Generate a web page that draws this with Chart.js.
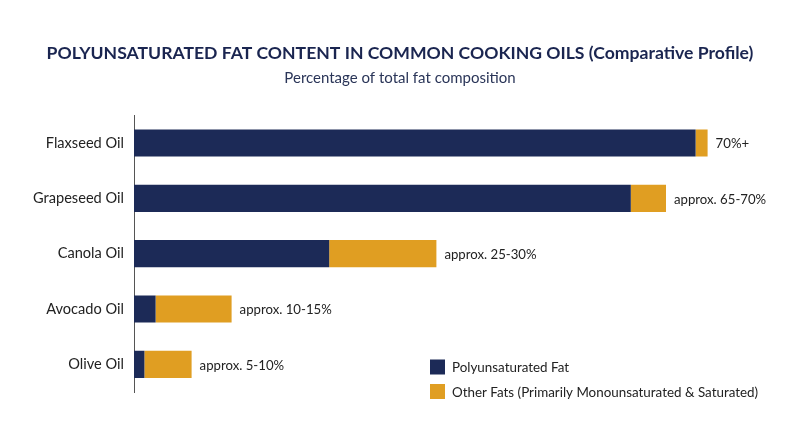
<!DOCTYPE html>
<html>
<head>
<meta charset="utf-8">
<script src="https://cdn.jsdelivr.net/npm/chart.js@4.4.1/dist/chart.umd.min.js"></script>
<style>
  html, body { margin: 0; padding: 0; background: #ffffff; }
  #wrap { position: relative; width: 800px; height: 447px; }
</style>
</head>
<body>
<div id="wrap"><canvas id="chart"></canvas></div>
<script>
// Dados do gráfico
const oils = ['Flaxseed Oil', 'Grapeseed Oil', 'Canola Oil', 'Avocado Oil', 'Olive Oil'];
const polyFat = [70.2, 62.1, 24.4, 2.7, 1.3];
const otherFats = [1.5, 4.4, 13.4, 9.5, 5.9];
const endLabels = ['70%+', 'approx. 65-70%', 'approx. 25-30%', 'approx. 10-15%', 'approx. 5-10%'];

const NAVY = '#1c2a57';
const ORANGE = '#e09e22';
const FONT = "Lato, 'Noto Sans', sans-serif";

// Rótulos no fim de cada barra empilhada
const endLabelPlugin = {
    id: 'endLabels',
    afterDatasetsDraw(chart) {
        const ctx = chart.ctx;
        const meta = chart.getDatasetMeta(chart.data.datasets.length - 1);
        ctx.save();
        ctx.font = '13.2px ' + FONT;
        ctx.fillStyle = '#222222';
        ctx.textAlign = 'left';
        ctx.textBaseline = 'middle';
        meta.data.forEach((bar, i) => {
            ctx.fillText(endLabels[i], bar.x + 8, bar.y + 1);
        });
        ctx.restore();
    }
};

// Legenda desenhada dentro da área do gráfico (canto inferior direito)
const insideLegend = {
    id: 'insideLegend',
    afterDraw(chart) {
        const ctx = chart.ctx;
        const area = chart.chartArea;
        const x = area.left + 296;
        let y = area.bottom - 25;
        ctx.save();
        ctx.font = '13.4px ' + FONT;
        ctx.textBaseline = 'middle';
        chart.data.datasets.forEach(ds => {
            ctx.fillStyle = ds.backgroundColor;
            ctx.fillRect(x, y - 7.5, 15, 15);
            ctx.fillStyle = '#222222';
            ctx.fillText(ds.label, x + 22, y + 1);
            y += 24.5;
        });
        ctx.restore();
    }
};

new Chart(document.getElementById('chart'), {
    type: 'bar',
    data: {
        labels: oils,
        datasets: [
            {
                label: 'Polyunsaturated Fat',
                data: polyFat,
                backgroundColor: NAVY,
                barPercentage: 0.98,
                categoryPercentage: 0.5
            },
            {
                label: 'Other Fats (Primarily Monounsaturated & Saturated)',
                data: otherFats,
                backgroundColor: ORANGE,
                barPercentage: 0.98,
                categoryPercentage: 0.5
            }
        ]
    },
    options: {
        indexAxis: 'y',
        responsive: true,
        maintainAspectRatio: false,
        animation: false,
        layout: { padding: { left: 0, right: 0, top: 0, bottom: 55 } },
        plugins: {
            legend: { display: false },
            tooltip: { enabled: false },
            title: {
                display: true,
                text: 'POLYUNSATURATED FAT CONTENT IN COMMON COOKING OILS (Comparative Profile)',
                color: '#1a2550',
                font: { family: FONT, size: 17.6, weight: 'bold' },
                padding: { top: 42.4, bottom: 5.5 }
            },
            subtitle: {
                display: true,
                text: 'Percentage of total fat composition',
                color: '#2a3558',
                font: { family: FONT, size: 15 },
                padding: { top: 0, bottom: 28.3 }
            }
        },
        scales: {
            x: {
                stacked: true,
                display: false,
                min: 0,
                max: 83.25
            },
            y: {
                stacked: true,
                grid: { display: true, drawOnChartArea: false, drawTicks: false },
                border: { display: true, color: '#555555', width: 1 },
                ticks: {
                    color: '#222222',
                    padding: 10,
                    font: { family: FONT, size: 14.6 }
                },
                afterFit(scale) { scale.width = 134; }
            }
        }
    },
    plugins: [endLabelPlugin, insideLegend]
});
</script>
</body>
</html>
